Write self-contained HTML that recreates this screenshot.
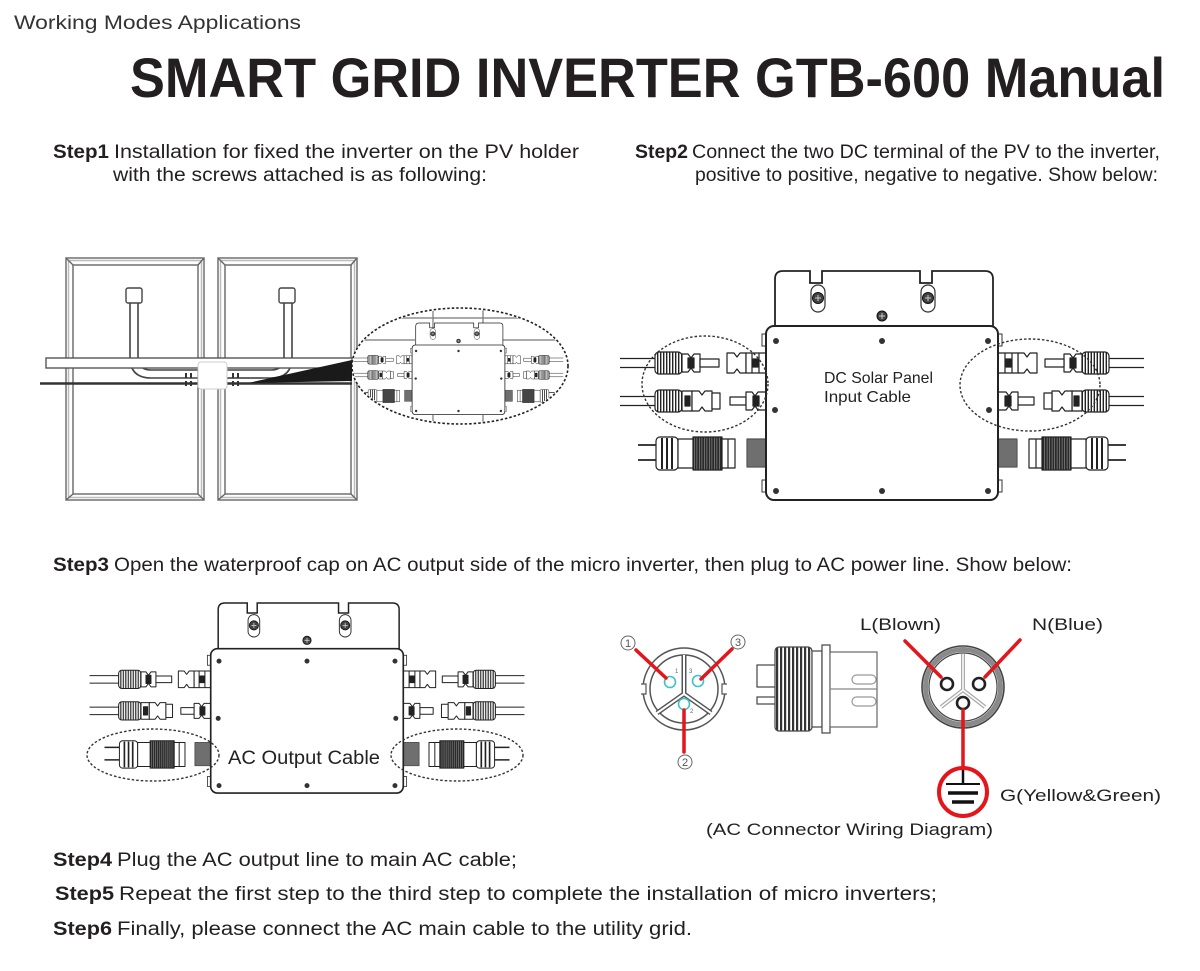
<!DOCTYPE html>
<html><head><meta charset="utf-8"><style>
html,body{margin:0;padding:0;background:#fff;}
svg{display:block}
text{font-family:"Liberation Sans",sans-serif;}
</style></head><body>
<svg width="1200" height="971" viewBox="0 0 1200 971" xmlns="http://www.w3.org/2000/svg" xmlns:xlink="http://www.w3.org/1999/xlink">
<defs>
<pattern id="rib" width="3" height="10" patternUnits="userSpaceOnUse"><rect width="3" height="10" fill="#fff"/><rect width="1.4" height="10" fill="#222"/></pattern>
<pattern id="ribd" width="2.5" height="10" patternUnits="userSpaceOnUse"><rect width="2.5" height="10" fill="#2a2a2a"/><rect x="1.6" width="0.6" height="10" fill="#9a9a9a"/></pattern>
<pattern id="thread" width="4" height="10" patternUnits="userSpaceOnUse"><rect width="4" height="10" fill="#fff"/><rect width="2.2" height="10" fill="#333"/></pattern>

<g id="lc" stroke="#222" stroke-width="1.2" fill="#fff" stroke-linejoin="round">
 <line x1="620" y1="358.5" x2="657" y2="358.5"/>
 <line x1="620" y1="367.5" x2="657" y2="367.5"/>
 <rect x="655" y="352" width="27" height="22" rx="4" fill="url(#rib)"/>
 <path d="M682,354 h6 l3,4 l3,-4 h6 v18 h-6 l-3,-4 l-3,4 h-6 z"/>
 <rect x="688" y="358" width="6" height="10" fill="#222"/>
 <rect x="700" y="359" width="19" height="8"/>
 <path d="M727,353 h7 l3,4 l3,-4 h6 v20 h-6 l-3,-4 l-3,4 h-7 z"/>
 <rect x="746" y="353" width="20" height="20"/>
 <line x1="752" y1="353" x2="752" y2="373"/>
 <line x1="759" y1="353" x2="759" y2="373"/>
 <rect x="753" y="359" width="5" height="8" fill="#222"/>

 <line x1="620" y1="396.5" x2="657" y2="396.5"/>
 <line x1="620" y1="405.5" x2="657" y2="405.5"/>
 <rect x="655" y="390" width="27" height="22" rx="4" fill="url(#rib)"/>
 <rect x="682" y="391" width="10" height="20"/>
 <rect x="685" y="396" width="5" height="10" fill="#222"/>
 <path d="M692,391 h7 l3,4 l3,-4 h7 v20 h-7 l-3,-4 l-3,4 h-7 z"/>
 <rect x="712" y="393" width="8" height="16"/>
 <rect x="730" y="397" width="16" height="8"/>
 <path d="M746,392 h6 l3,4 l3,-4 h8 v18 h-8 l-3,-4 l-3,4 h-6 z"/>
 <rect x="753" y="396" width="6" height="10" fill="#222"/>

 <line x1="638" y1="445" x2="657" y2="445" stroke-width="1.8"/>
 <line x1="638" y1="460" x2="657" y2="460" stroke-width="1.8"/>
 <rect x="656" y="437" width="22" height="33" rx="4"/>
 <line x1="662" y1="438" x2="662" y2="469" stroke-width="2"/>
 <line x1="667" y1="438" x2="667" y2="469" stroke-width="2"/>
 <line x1="672" y1="438" x2="672" y2="469" stroke-width="2"/>
 <rect x="678" y="439" width="57" height="29"/>
 <rect x="693" y="437" width="29" height="33" fill="url(#ribd)"/>
 <line x1="728" y1="439" x2="728" y2="468"/>
 <rect x="747" y="439" width="19" height="28" fill="#6f6f6f" stroke="#555"/>
</g>

<g id="inv">
 <use xlink:href="#lc" href="#lc"/>
 <use xlink:href="#lc" href="#lc" transform="translate(1764,0) scale(-1,1)"/>
 <path d="M775,327 V279 Q775,271 783,271 H810 V283 H822 V271 H920 V283 H932 V271 H985 Q993,271 993,279 V327" fill="#fff" stroke="#222" stroke-width="1.8"/>
 <rect x="811" y="285" width="14" height="27" rx="7" fill="#fff" stroke="#333" stroke-width="1.2"/>
 <rect x="921" y="285" width="14" height="27" rx="7" fill="#fff" stroke="#333" stroke-width="1.2"/>
 <circle cx="818" cy="298" r="5.5" fill="#444" stroke="#111"/>
 <circle cx="928" cy="298" r="5.5" fill="#444" stroke="#111"/>
 <circle cx="882" cy="316" r="5" fill="#444" stroke="#111"/>
 <path d="M815,298 h6 M818,295 v6 M925,298 h6 M928,295 v6 M879,316 h6 M882,313 v6" stroke="#ccc" stroke-width="1"/>
 <rect x="762" y="334" width="5" height="12" fill="#fff" stroke="#333"/>
 <rect x="762" y="480" width="5" height="12" fill="#fff" stroke="#333"/>
 <rect x="997" y="334" width="5" height="12" fill="#fff" stroke="#333"/>
 <rect x="997" y="480" width="5" height="12" fill="#fff" stroke="#333"/>
 <rect x="766" y="326" width="232" height="174" rx="8" fill="#fff" stroke="#222" stroke-width="2"/>
 <g fill="#333">
  <circle cx="776" cy="341" r="3"/><circle cx="882" cy="341" r="3"/><circle cx="988" cy="341" r="3"/>
  <circle cx="775" cy="410" r="3"/><circle cx="989" cy="410" r="3"/>
  <circle cx="776" cy="491" r="3"/><circle cx="882" cy="491" r="3"/><circle cx="988" cy="491" r="3"/>
 </g>
</g>
<clipPath id="e1c"><ellipse cx="460" cy="366" rx="107" ry="57"/></clipPath>
</defs>

<!-- header text -->
<text x="14" y="29" font-size="19" fill="#333" textLength="287" lengthAdjust="spacingAndGlyphs">Working Modes Applications</text>
<text x="130" y="97" font-size="56" font-weight="bold" fill="#231f20" textLength="1035" lengthAdjust="spacingAndGlyphs">SMART GRID INVERTER GTB-600 Manual</text>

<g font-size="19" fill="#231f20">
<text x="53" y="158" font-weight="bold" textLength="56" lengthAdjust="spacingAndGlyphs">Step1</text>
<text x="114" y="158" textLength="465" lengthAdjust="spacingAndGlyphs">Installation for fixed the inverter on the PV holder</text>
<text x="113" y="181" textLength="374" lengthAdjust="spacingAndGlyphs">with the screws attached is as following:</text>
<text x="635" y="158" font-weight="bold" textLength="53" lengthAdjust="spacingAndGlyphs">Step2</text>
<text x="692" y="158" textLength="468" lengthAdjust="spacingAndGlyphs">Connect the two DC terminal of the PV to the inverter,</text>
<text x="695" y="181" textLength="463" lengthAdjust="spacingAndGlyphs">positive to positive, negative to negative. Show below:</text>
<text x="53" y="571" font-weight="bold" textLength="56" lengthAdjust="spacingAndGlyphs">Step3</text>
<text x="114" y="571" textLength="958" lengthAdjust="spacingAndGlyphs">Open the waterproof cap on AC output side of the micro inverter, then plug to AC power line. Show below:</text>
<text x="53" y="866" font-weight="bold" textLength="59" lengthAdjust="spacingAndGlyphs">Step4</text>
<text x="117" y="866" textLength="400" lengthAdjust="spacingAndGlyphs">Plug the AC output line to main AC cable;</text>
<text x="55" y="900" font-weight="bold" textLength="59" lengthAdjust="spacingAndGlyphs">Step5</text>
<text x="119" y="900" textLength="818" lengthAdjust="spacingAndGlyphs">Repeat the first step to the third step to complete the installation of micro inverters;</text>
<text x="53" y="935" font-weight="bold" textLength="59" lengthAdjust="spacingAndGlyphs">Step6</text>
<text x="117" y="935" textLength="575" lengthAdjust="spacingAndGlyphs">Finally, please connect the AC main cable to the utility grid.</text>
</g>

<!-- STEP 1 panels -->
<g fill="none" stroke="#666" stroke-width="1.4">
 <rect x="66" y="258" width="138" height="242"/>
 <rect x="68.5" y="260.5" width="133" height="237" stroke="#bbb" stroke-width="1.5"/>
 <rect x="73" y="265" width="125" height="229"/>
 <path d="M66,258 L73,265 M204,258 L198,265 M66,500 L73,494 M204,500 L198,494"/>
 <rect x="218" y="258" width="139" height="242"/>
 <rect x="220.5" y="260.5" width="134" height="237" stroke="#bbb" stroke-width="1.5"/>
 <rect x="225" y="265" width="126" height="229"/>
 <path d="M218,258 L225,265 M357,258 L351,265 M218,500 L225,494 M357,500 L351,494"/>
</g>
<g fill="none" stroke="#444" stroke-width="1.6">
 <path d="M130,303 V357 Q130,378 151,378 H198"/>
 <path d="M138,303 V357 Q138,370 151,370 H198"/>
 <path d="M292,303 V357 Q292,378 271,378 H227"/>
 <path d="M284,303 V357 Q284,370 271,370 H227"/>
</g>
<rect x="126" y="288" width="16" height="15" rx="2" fill="#fff" stroke="#444" stroke-width="1.4"/>
<rect x="279" y="288" width="16" height="15" rx="2" fill="#fff" stroke="#444" stroke-width="1.4"/>
<rect x="46" y="358" width="306" height="10" fill="#fff" stroke="#555" stroke-width="1.4"/>
<line x1="40" y1="383.5" x2="352" y2="383.5" stroke="#333" stroke-width="2.5"/>
<line x1="227" y1="378" x2="262" y2="378" stroke="#444" stroke-width="1.2"/>
<g fill="#333">
 <rect x="185" y="373" width="2" height="5"/><rect x="190" y="373" width="2" height="5"/>
 <rect x="232" y="373" width="2" height="5"/><rect x="237" y="373" width="2" height="5"/>
 <rect x="185" y="381" width="2" height="5"/><rect x="190" y="381" width="2" height="5"/>
 <rect x="232" y="381" width="2" height="5"/><rect x="237" y="381" width="2" height="5"/>
</g>
<rect x="198" y="362" width="29" height="27" rx="3" fill="#fff" stroke="#ccc" stroke-width="1"/>
<polygon points="248,383 352,360 352,381" fill="#1a1a1a"/>

<!-- step1 ellipse with mini inverter -->
<ellipse cx="460" cy="366" rx="108" ry="58" fill="#fff"/>
<g clip-path="url(#e1c)">
 <g stroke="#777" stroke-width="1.2">
  <line x1="433" y1="300" x2="433" y2="330"/><line x1="483" y1="300" x2="483" y2="330"/>
  <line x1="433" y1="410" x2="433" y2="430"/><line x1="483" y1="410" x2="483" y2="430"/>
  <line x1="350" y1="318" x2="570" y2="318"/>
  <line x1="350" y1="340" x2="415" y2="340"/><line x1="503" y1="340" x2="570" y2="340"/>
 </g>
 <use xlink:href="#inv" href="#inv" transform="matrix(0.4,0,0,0.4,105.7,214.6)"/>
</g>
<ellipse cx="460" cy="366" rx="108" ry="58" fill="none" stroke="#222" stroke-width="1.6" stroke-dasharray="2.5 2"/>

<!-- STEP 2 -->
<use xlink:href="#inv" href="#inv"/>
<ellipse cx="705" cy="384" rx="63" ry="48" fill="none" stroke="#333" stroke-width="1.4" stroke-dasharray="2.5 2"/>
<ellipse cx="1030" cy="385" rx="70" ry="46" fill="none" stroke="#333" stroke-width="1.4" stroke-dasharray="2.5 2"/>
<text x="824" y="383" font-size="16" fill="#222" textLength="109" lengthAdjust="spacingAndGlyphs">DC Solar Panel</text>
<text x="824" y="402" font-size="16" fill="#222" textLength="87" lengthAdjust="spacingAndGlyphs">Input Cable</text>

<!-- STEP 3 -->
<use xlink:href="#inv" href="#inv" transform="matrix(0.83,0,0,0.83,-425.06,378.07)"/>
<ellipse cx="153" cy="755" rx="66" ry="26" fill="none" stroke="#333" stroke-width="1.4" stroke-dasharray="2.5 2"/>
<ellipse cx="457" cy="755" rx="66" ry="26" fill="none" stroke="#333" stroke-width="1.4" stroke-dasharray="2.5 2"/>
<text x="228" y="764" font-size="19" fill="#222" textLength="152" lengthAdjust="spacingAndGlyphs">AC Output Cable</text>

<!-- AC wiring: left face -->
<circle cx="684" cy="689" r="41" fill="#fff" stroke="#555" stroke-width="1.5"/>
<circle cx="684" cy="689" r="34" fill="#fff" stroke="#555" stroke-width="1.5"/>
<path d="M641,684 h5 v10 h-5 M727,684 h-5 v10 h5" fill="#fff" stroke="#555" stroke-width="1.2"/>
<g fill="none" stroke-linecap="butt">
 <path d="M684,655 V694 M684,694 L657,713 M684,694 L711,713" stroke="#555" stroke-width="5"/>
 <path d="M684,655 V694 M684,694 L657,713 M684,694 L711,713" stroke="#fff" stroke-width="2"/>
</g>
<g fill="#fff" stroke="#3cc4c4" stroke-width="1.6">
 <circle cx="670" cy="682" r="5.5"/><circle cx="698" cy="681" r="5.5"/><circle cx="684" cy="704" r="5.5"/>
</g>
<g font-size="6" fill="#666"><text x="675" y="673">1</text><text x="689" y="673">3</text><text x="690" y="713">2</text></g>
<g stroke="#e2161b" stroke-width="3.5" stroke-linecap="round">
 <line x1="636" y1="650" x2="666" y2="678"/>
 <line x1="732" y1="649" x2="701" y2="679"/>
 <line x1="684" y1="710" x2="684" y2="752"/>
</g>
<g fill="#fff" stroke="#666" stroke-width="1">
 <circle cx="628" cy="643" r="7"/><circle cx="738" cy="642" r="7"/><circle cx="685" cy="762" r="7"/>
</g>
<g font-size="11" fill="#555" text-anchor="middle">
 <text x="628" y="647">1</text><text x="738" y="646">3</text><text x="685" y="766">2</text>
</g>

<!-- AC wiring: side view -->
<g stroke="#444" stroke-width="1.2" fill="#fff">
 <rect x="757" y="665" width="19" height="22"/>
 <rect x="757" y="697" width="19" height="7"/>
 <rect x="775" y="647" width="37" height="84" rx="4" fill="url(#thread)"/>
 <rect x="812" y="651" width="10" height="76"/>
 <rect x="822" y="645" width="8" height="88"/>
 <rect x="830" y="652" width="47" height="75" stroke="#666"/>
 <line x1="830" y1="689" x2="877" y2="689" stroke="#888"/>
 <rect x="852" y="675" width="24" height="9" rx="4.5" fill="none" stroke="#999"/>
 <rect x="852" y="697" width="24" height="9" rx="4.5" fill="none" stroke="#999"/>
</g>

<!-- AC wiring: right face -->
<circle cx="963" cy="687" r="41" fill="#fff" stroke="#444" stroke-width="1.6"/>
<circle cx="963" cy="687" r="37.5" fill="none" stroke="#8a8a8a" stroke-width="5"/>
<circle cx="963" cy="687" r="34" fill="#fff" stroke="#444" stroke-width="1.2"/>
<g fill="none">
 <path d="M963,654 V690 M963,690 L941,707 M963,690 L985,707" stroke="#aaa" stroke-width="4"/>
 <path d="M963,654 V690 M963,690 L941,707 M963,690 L985,707" stroke="#fff" stroke-width="1.5"/>
</g>
<g fill="#fff" stroke="#222" stroke-width="2.6">
 <circle cx="947" cy="684" r="6"/><circle cx="979" cy="684" r="6"/><circle cx="963" cy="703" r="6"/>
</g>
<g stroke="#e2161b" stroke-width="3.5" stroke-linecap="round">
 <line x1="905" y1="641" x2="941" y2="677"/>
 <line x1="1020" y1="640" x2="985" y2="677"/>
 <line x1="963" y1="710" x2="963" y2="770"/>
</g>
<circle cx="963" cy="792" r="24" fill="#fff" stroke="#e2161b" stroke-width="4"/>
<g stroke="#111">
 <line x1="963" y1="770" x2="963" y2="784" stroke-width="2.5"/>
 <line x1="946" y1="784" x2="980" y2="784" stroke-width="2"/>
 <line x1="948" y1="793" x2="978" y2="793" stroke-width="3.5"/>
 <line x1="952" y1="802" x2="974" y2="802" stroke-width="3.5"/>
</g>

<g font-size="17" fill="#222">
 <text x="860" y="630" textLength="81" lengthAdjust="spacingAndGlyphs">L(Blown)</text>
 <text x="1032" y="630" textLength="71" lengthAdjust="spacingAndGlyphs">N(Blue)</text>
 <text x="1000" y="801" textLength="161" lengthAdjust="spacingAndGlyphs">G(Yellow&amp;Green)</text>
 <text x="706" y="835" textLength="287" lengthAdjust="spacingAndGlyphs">(AC Connector Wiring Diagram)</text>
</g>
</svg>
</body></html>
